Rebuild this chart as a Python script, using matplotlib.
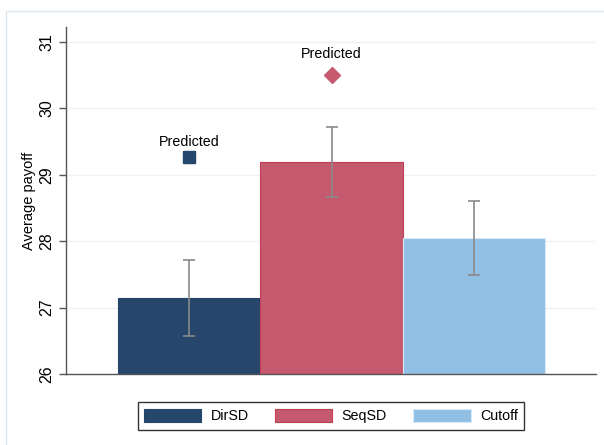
import matplotlib
matplotlib.use("Agg")
import matplotlib.pyplot as plt
from matplotlib.patches import Rectangle

plt.rcParams['font.family'] = ['Liberation Sans', 'DejaVu Sans']

groups = ['DirSD', 'SeqSD', 'Cutoff']
means = [27.14, 29.19, 28.05]
ci_low = [26.57, 28.67, 27.49]
ci_high = [27.72, 29.72, 28.61]
pred_groups = ['DirSD', 'SeqSD']
predicted = [29.27, 30.51]
pred_label = 'Predicted'

colors = ['#26476b', '#c55a6f', '#92bfe4']
edges = ['#24456a', '#c23c53', '#d8e8f6']
xpos = [1, 2, 3]

fig = plt.figure(figsize=(6.04, 4.45), dpi=100)
fig.patches.append(Rectangle((6 / 604, -0.01), 1.0, (445 - 11) / 445 + 0.01,
                             transform=fig.transFigure, fill=False,
                             edgecolor='#dfe7ee', linewidth=1.0))
ax = fig.add_axes([66 / 604, 1 - 374 / 445, 530 / 604, 347 / 445])

base = 26
for x, m, c, e, g in zip(xpos, means, colors, edges, groups):
    ax.bar(x, m - base, bottom=base, width=1.0, color=c, edgecolor=e,
           linewidth=0.8, label=g, zorder=2)

yerr_lo = [m - l for m, l in zip(means, ci_low)]
yerr_hi = [h - m for m, h in zip(means, ci_high)]
ax.errorbar(xpos, means, yerr=[yerr_lo, yerr_hi], fmt='none', ecolor='#8a8a8a',
            elinewidth=1.2, capsize=4, capthick=1.2, zorder=3)

markers = ['s', 'D']
msizes = [9, 8.5]
offsets = [11, 14.5]
for g, p, mk, ms, off in zip(pred_groups, predicted, markers, msizes, offsets):
    i = groups.index(g)
    ax.plot(xpos[i], p, marker=mk, markersize=ms, color=colors[i],
            markeredgecolor=colors[i], linestyle='none', zorder=4)
    ax.annotate(pred_label, (xpos[i], p), xytext=(0, off),
                textcoords='offset points', ha='center', va='center',
                fontsize=10.3, color='black')

ax.set_xlim(1 - 123 / 142.5, 3 + 122 / 142.5)
ax.set_ylim(26, 26 + 347 / 66.4)
ax.set_yticks([26, 27, 28, 29, 30, 31])
ax.set_yticklabels(['26', '27', '28', '29', '30', '31'], rotation=90, va='center')
ax.tick_params(axis='y', length=5, width=1, color='#555555', pad=3.5, labelsize=11.5)
ax.set_xticks([])
ax.set_ylabel('Average payoff', fontsize=10.5, labelpad=2)

for s in ['top', 'right']:
    ax.spines[s].set_visible(False)
for s in ['left', 'bottom']:
    ax.spines[s].set_color('#555555')
    ax.spines[s].set_linewidth(1.0)
ax.yaxis.grid(True, color='#edf2f6', linewidth=1.0, zorder=0)
ax.set_axisbelow(True)

leg = fig.legend(loc='center', bbox_to_anchor=(331 / 604, 1 - 416 / 445), ncol=3,
                 fontsize=10.3, handlelength=4.0, handleheight=1.05,
                 handletextpad=0.65, columnspacing=1.85, borderpad=0.45,
                 fancybox=False, framealpha=1, edgecolor='#333333')
leg.get_frame().set_linewidth(1.0)

fig.savefig('out.png', dpi=100)
